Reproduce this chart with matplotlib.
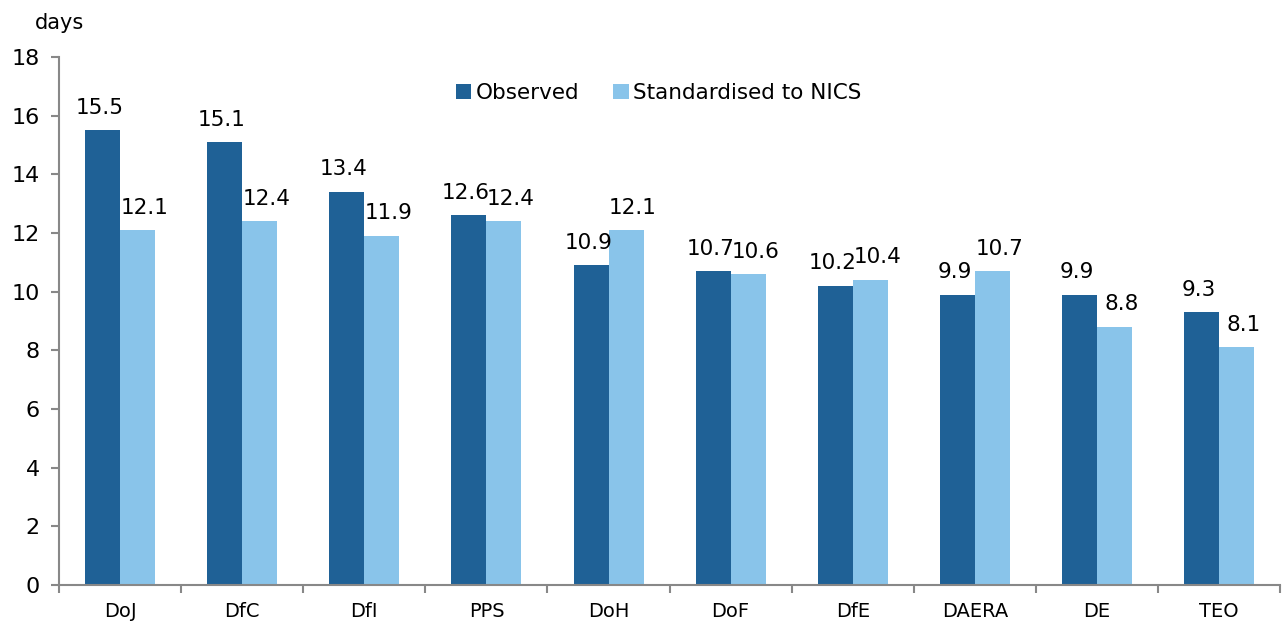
import numpy as np
import matplotlib.pyplot as plt

categories = ["DoJ", "DfC", "DfI", "PPS", "DoH", "DoF", "DfE", "DAERA", "DE", "TEO"]
observed = [15.5, 15.1, 13.4, 12.6, 10.9, 10.7, 10.2, 9.9, 9.9, 9.3]
standardised = [12.1, 12.4, 11.9, 12.4, 12.1, 10.6, 10.4, 10.7, 8.8, 8.1]

dark = "#1F6196"
light = "#89C4EA"
axis_grey = "#888888"

plt.rcParams['font.family'] = ['DejaVu Sans']

fig = plt.figure(figsize=(12.84, 6.23), dpi=100)
ax = fig.add_axes([0.046, 0.061, 0.951, 0.8475])

x = np.arange(len(categories))
w = 0.287
b1 = ax.bar(x - w/2, observed, w, color=dark, label="Observed")
b2 = ax.bar(x + w/2, standardised, w, color=light, label="Standardised to NICS")

# value labels above each bar (light ones sit a little to the right, as in the source)
for bars, vals, dx in ((b1, observed, -2), (b2, standardised, 5)):
    for rect, v in zip(bars, vals):
        ax.annotate(f"{v:.1f}", (rect.get_x() + rect.get_width()/2, v),
                    xytext=(dx, 9), textcoords="offset points",
                    ha="center", va="bottom", fontsize=15.5)

ax.set_xlim(-0.5, len(categories) - 0.5)
ax.set_ylim(0, 18)
ax.set_yticks(range(0, 19, 2))
ax.set_xticks(np.arange(len(categories) + 1) - 0.5, minor=True)
ax.set_xticks(x)
ax.set_xticklabels(categories)
ax.tick_params(axis="x", which="major", length=0, pad=12, labelsize=14)
ax.tick_params(axis="x", which="minor", length=6, color=axis_grey, width=1.5)
ax.tick_params(axis="y", length=6, color=axis_grey, width=1.5, labelsize=16, pad=8)

for s in ("top", "right"):
    ax.spines[s].set_visible(False)
for s in ("left", "bottom"):
    ax.spines[s].set_color(axis_grey)
    ax.spines[s].set_linewidth(1.5)

fig.text(0.027, 0.963, "days", fontsize=15, va="center", ha="left")

ax.legend(loc="upper center", bbox_to_anchor=(0.491, 0.987), ncol=2, frameon=False,
          fontsize=15.5, handlelength=0.7, handleheight=0.7, handletextpad=0.2,
          columnspacing=1.6)

fig.savefig("out.png", dpi=100)
